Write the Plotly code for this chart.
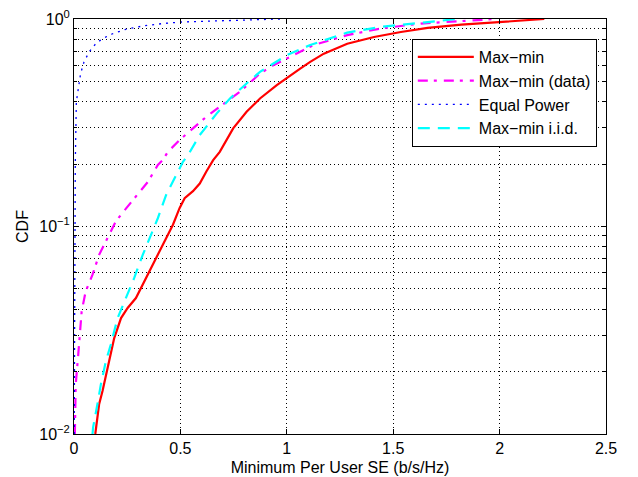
import plotly.graph_objects as go

# Max-min (red)
maxmin_x = [0.10, 0.105, 0.118, 0.134, 0.162, 0.189, 0.221, 0.252, 0.291, 0.339, 0.386, 0.433, 0.465,
            0.496, 0.52, 0.559, 0.591, 0.622, 0.654, 0.685, 0.748, 0.811, 0.874, 0.953, 1.016, 1.063,
            1.11, 1.174, 1.284, 1.41, 1.536, 1.662, 1.82, 1.993, 2.1, 2.21]
maxmin_y = [0.010, 0.0108, 0.0139, 0.0161, 0.0216, 0.029, 0.0362, 0.0405, 0.0452, 0.0565, 0.0704, 0.0879, 0.102,
            0.1225, 0.137, 0.148, 0.161, 0.184, 0.209, 0.229, 0.297, 0.357, 0.414, 0.48, 0.536, 0.577,
            0.621, 0.681, 0.76, 0.819, 0.866, 0.906, 0.939, 0.968, 0.985, 1.0]

# Max-min (data) (magenta)
data_x = [0.004, 0.005, 0.008, 0.02, 0.027, 0.036, 0.055, 0.087, 0.118, 0.158, 0.197, 0.244, 0.299,
          0.347, 0.394, 0.417, 0.441, 0.496, 0.559, 0.622, 0.685, 0.78, 0.874, 0.937, 1.0, 1.126,
          1.284, 1.441, 1.63, 1.85, 1.98]
data_y = [0.010, 0.0108, 0.0173, 0.0242, 0.0307, 0.039, 0.0487, 0.0586, 0.073, 0.088, 0.106, 0.122, 0.142,
          0.164, 0.198, 0.209, 0.229, 0.261, 0.297, 0.338, 0.378, 0.446, 0.546, 0.599, 0.645, 0.749,
          0.836, 0.9, 0.951, 0.978, 1.0]

# Equal Power (blue)
eq_x = [0.001, 0.003, 0.006, 0.011, 0.02, 0.031, 0.047, 0.071, 0.102, 0.134, 0.181, 0.244, 0.323,
        0.417, 0.512, 0.638, 0.79, 0.97]
eq_y = [0.010, 0.05, 0.2, 0.399, 0.462, 0.546, 0.621, 0.694, 0.76, 0.804, 0.849, 0.892, 0.925,
        0.951, 0.968, 0.977, 0.99, 1.0]

# Max-min i.i.d. (cyan)
iid_x = [0.087, 0.09, 0.11, 0.126, 0.15, 0.173, 0.205, 0.244, 0.283, 0.323, 0.354, 0.394, 0.433,
         0.473, 0.512, 0.536, 0.591, 0.67, 0.733, 0.811, 0.874, 0.937, 1.0, 1.11, 1.284, 1.441,
         1.63, 1.8]
iid_y = [0.010, 0.0108, 0.0139, 0.0173, 0.0225, 0.027, 0.0362, 0.0452, 0.0565, 0.073, 0.088, 0.1096, 0.142,
         0.171, 0.205, 0.221, 0.276, 0.35, 0.414, 0.489, 0.556, 0.61, 0.669, 0.749, 0.86, 0.916,
         0.956, 1.0]

x_ticks = [0, 0.5, 1, 1.5, 2, 2.5]
x_ticktext = ["0", "0.5", "1", "1.5", "2", "2.5"]
y_ticks = [0.01, 0.1, 1]
y_ticktext = ["10<sup>−2</sup>", "10<sup>−1</sup>", "10<sup>0</sup>"]

FONT = "Liberation Sans, Arial, sans-serif"
GRID_DASH = "1px,3px"

fig = go.Figure()
fig.add_trace(go.Scatter(x=maxmin_x, y=maxmin_y, mode="lines", name="Max−min",
                         line=dict(color="#FF0000", width=2.2)))
fig.add_trace(go.Scatter(x=data_x, y=data_y, mode="lines", name="Max−min (data)",
                         line=dict(color="#FF00FF", width=2.2, dash="10px,6px,3px,7px")))
fig.add_trace(go.Scatter(x=eq_x, y=eq_y, mode="lines", name="Equal Power",
                         line=dict(color="#0000FF", width=1.3, dash="2px,5px")))
fig.add_trace(go.Scatter(x=iid_x, y=iid_y, mode="lines", name="Max−min i.i.d.",
                         line=dict(color="#00FFFF", width=2.2, dash="12px,8px")))

fig.update_layout(
    width=638, height=477,
    margin=dict(l=74, r=32, t=19, b=43, autoexpand=False),
    paper_bgcolor="white", plot_bgcolor="white",
    font=dict(family=FONT, size=16, color="black"),
    showlegend=True,
    legend=dict(x=0.635, y=0.952, xanchor="left", yanchor="top",
                bgcolor="white", bordercolor="black", borderwidth=1,
                font=dict(size=16), itemwidth=56, tracegroupgap=0),
    xaxis=dict(range=[0, 2.5], tickvals=x_ticks, ticktext=x_ticktext,
               ticks="inside", ticklen=5, tickcolor="black", mirror="ticks",
               showline=True, linecolor="black", linewidth=1,
               showgrid=True, gridcolor="black", griddash=GRID_DASH, gridwidth=1,
               zeroline=False, automargin=False, tickfont=dict(size=16),
               title=dict(text="Minimum Per User SE (b/s/Hz)", standoff=5, font=dict(size=16))),
    yaxis=dict(type="log", range=[-2, 0], tickvals=y_ticks, ticktext=y_ticktext,
               ticks="inside", ticklen=5, tickcolor="black", mirror="ticks",
               showline=True, linecolor="black", linewidth=1,
               showgrid=True, gridcolor="black", griddash=GRID_DASH, gridwidth=1,
               zeroline=False, automargin=False, tickfont=dict(size=16),
               minor=dict(dtick="D1", ticks="inside", ticklen=3, tickcolor="black",
                          showgrid=True, gridcolor="black", griddash=GRID_DASH, gridwidth=1),
               title=dict(text="CDF", standoff=6, font=dict(size=16))),
)

fig.write_html("out.html",
               config={"displayModeBar": False},
               post_script="document.body.style.margin='0';document.body.style.overflow='hidden';")
